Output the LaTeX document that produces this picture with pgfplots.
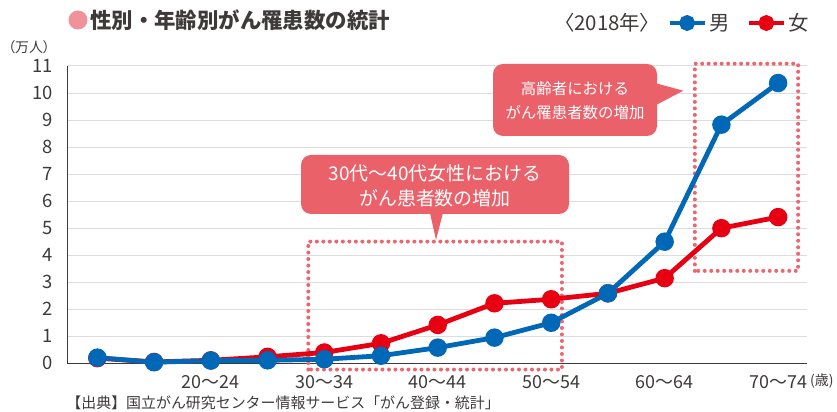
\documentclass[border=0pt]{standalone}
\usepackage{fontspec}
\setmainfont{Noto Sans CJK JP}
\newfontfamily\jpp[RawFeature=+palt]{Noto Sans CJK JP}
\usepackage{pgfplots}
\pgfplotsset{compat=1.18}
\definecolor{bluec}{HTML}{0068B7}
\definecolor{redc}{HTML}{E60012}
\definecolor{callc}{HTML}{EA6169}
\definecolor{dotc}{HTML}{EC6670}
\definecolor{pinkc}{HTML}{F1919A}
\definecolor{txt}{HTML}{3E3A39}
\definecolor{gridc}{HTML}{DCDCDC}
\begin{document}
\begin{tikzpicture}
\useasboundingbox (0,0) rectangle (837bp,412bp);
\begin{axis}[
 at={(67.3bp,48.7bp)}, anchor=south west,
 scale only axis, width=739.2bp, height=297.3bp,
 xmin=-0.53, xmax=12.5, ymin=0, ymax=11,
 axis x line=bottom, axis y line=left,
 axis line style={draw=txt, line width=1.3bp, -},
 ymajorgrids, major grid style={draw=gridc, line width=1bp},
 ytick={0,...,11}, xtick={2,4,6,8,10,12},
 xticklabels={20～24,30～34,40～44,50～54,60～64,70～74},
 major tick length=0pt,
 /pgf/number format/assume math mode=true,
 ticklabel style={font=\fontsize{18}{20}\selectfont, text=txt, inner sep=0pt},
 yticklabel style={anchor=east, xshift=-14bp, font=\fontsize{18.5}{20}\selectfont},
 xticklabel style={anchor=base, yshift=-25bp},
 clip=false,
 legend columns=2, reverse legend,
 legend style={at={(axis description cs:0.8113,1.1446)}, anchor=west, draw=none, fill=none, inner sep=0pt,
   font=\fontsize{20.5}{21}\selectfont, text=txt,
   nodes={inner sep=2.5bp},
   /tikz/every even column/.append style={column sep=14bp}},
 legend image code/.code={\draw[mark repeat=2,mark phase=2,mark size=5.5bp] plot coordinates {(0bp,0bp)(17.5bp,0bp)(35bp,0bp)};},
]
\draw[dotc, line width=4bp, line cap=round, dash pattern=on 0bp off 6.5bp]
  (axis cs:3.718,-0.23) rectangle (axis cs:8.189,4.504);
\draw[dotc, line width=4bp, line cap=round, dash pattern=on 0bp off 6.5bp]
  (axis cs:10.532,3.419) rectangle (axis cs:12.352,11.085);
\addplot[redc, line width=4.8bp, mark=*, mark size=6.8bp, mark options={solid}] coordinates {
(0,0.19) (1,0.05) (2,0.11) (3,0.24) (4,0.40) (5,0.74) (6,1.42) (7,2.22) (8,2.37) (9,2.59) (10,3.15) (11,5.00) (12,5.41)};
\addlegendentry{女}
\addplot[bluec, line width=4.8bp, mark=*, mark size=6.8bp, mark options={solid}] coordinates {
(0,0.21) (1,0.04) (2,0.10) (3,0.11) (4,0.15) (5,0.28) (6,0.58) (7,0.95) (8,1.50) (9,2.59) (10,4.50) (11,8.83) (12,10.37)};
\addlegendentry{男}
\end{axis}
\begin{scope}[yshift=412bp, x=1bp, y=-1bp]
\fill[pinkc] (78,20) circle (9.5bp);
\node[anchor=west, inner sep=0, text=txt, font=\fontsize{21.5}{22}\selectfont\bfseries] at (90,20) {性別・年齢別がん罹患数の統計};
\node[anchor=west, inner sep=0, text=txt, font=\jpp\fontsize{14}{15}\selectfont] at (8,47) {（万人）};
\node[anchor=west, inner sep=0, text=txt, font=\jpp\fontsize{20.5}{21}\selectfont] at (564,23) {〈2018年〉};
\node[anchor=west, inner sep=0, text=txt, font=\fontsize{14}{15}\selectfont] at (810,381) {(歳)};
\node[anchor=east, inner sep=0, text=txt, font=\fontsize{15}{16}\selectfont] at (500,403) {【出典】国立がん研究センター情報サービス「がん登録・統計」};
% callout 1
\fill[callc, rounded corners=10bp] (301,155) rectangle (569,214);
\fill[callc] (430,213) -- (436,240) -- (443,213) -- cycle;
\node[align=center, text=white, inner sep=0, font=\fontsize{19}{25}\selectfont] at (435,185.5) {30代～40代女性における\\がん患者数の増加};
% callout 2
\fill[callc, rounded corners=10bp] (493,64) rectangle (657,136);
\fill[callc] (656,83.3) -- (683.3,90.7) -- (656,105) -- cycle;
\node[align=center, text=white, inner sep=0, font=\fontsize{15.5}{24}\selectfont] at (575,101) {高齢者における\\がん罹患者数の増加};
\end{scope}
\end{tikzpicture}
\end{document}
